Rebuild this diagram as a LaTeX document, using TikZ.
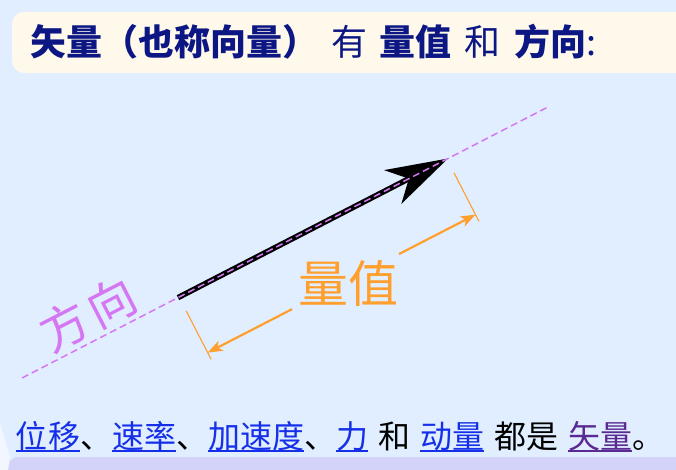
\documentclass[tikz,border=0pt]{standalone}
\usepackage{fontspec}
\setmainfont{Noto Sans CJK SC}
\usetikzlibrary{arrows.meta}
\definecolor{bgblue}{HTML}{E0EEFF}
\definecolor{cream}{HTML}{FFF9EC}
\definecolor{navy}{HTML}{0C1784}
\definecolor{linkblue}{HTML}{1530E8}
\definecolor{visited}{HTML}{5A2A92}
\definecolor{dirpurple}{HTML}{D577F2}
\definecolor{magorange}{HTML}{FF9F2E}
\definecolor{lavender}{HTML}{D3D3FA}
\definecolor{paleleft}{HTML}{F2F7FF}
\newcommand\ulink[2]{{\color{#1}\setbox0\hbox{#2}\rlap{\rule[-4pt]{\wd0}{1.8pt}}\box0}}
\tikzset{
  dirline/.style={draw=dirpurple, line width=1.5pt, dash pattern=on 7pt off 4pt},
  shaft/.style={draw=black, line width=5.5pt},
  tickline/.style={draw=magorange, line width=1.1pt},
  dimarrow/.style={draw=magorange, line width=2.2pt, -{Stealth[length=15pt,width=11pt,inset=4pt]}},
  lbl/.style={inner sep=0pt, outer sep=0pt}
}
\begin{document}
\begin{tikzpicture}[x=1pt,y=-1pt]
\useasboundingbox (0,0) rectangle (676,470);
\fill[bgblue] (0,0) rectangle (676,470);
% bottom decorations
\fill[paleleft] (0,423) -- (10,457) -- (8,470) -- (0,470) -- cycle;
\fill[lavender] (8,470) -- (10,460) to[out=-70,in=180] (16,457) -- (676,457) -- (676,470) -- cycle;
% title box
\fill[cream, rounded corners=12pt] (12,12) rectangle (700,73);
\node[lbl, anchor=base west] (title) at (30,56)
  {\color{navy}\fontsize{36}{42}\selectfont\textbf{矢量（也称向量）}\hspace{13pt}有\hspace{12pt}\textbf{量值}\hspace{13pt}和\hspace{14pt}\textbf{方向}:};
% vector drawing in a frame along the direction line
\begin{scope}[shift={(22,378)}, rotate=27.26]
  \coordinate (d0) at (0,0);
  \coordinate (d1) at (594,0);
  \coordinate (s) at (175.5,0);
  \coordinate (tip) at (479.2,0);
  \coordinate (barbA) at (417,-19);
  \coordinate (barbB) at (417,19);
  \coordinate (notch) at (435.2,0);
  \coordinate (lt0) at (176.7,15.5);
  \coordinate (lt1) at (176.7,70);
  \coordinate (rt0) at (478,15.5);
  \coordinate (rt1) at (478,70);
  \coordinate (la0) at (271.7,62.5);
  \coordinate (la1) at (176.7,62.5);
  \coordinate (ra0) at (392,62.5);
  \coordinate (ra1) at (478,62.5);
  \draw[shaft] (s) -- (notch);
  \fill[black] (tip) -- (barbA) -- (notch) -- (barbB) -- cycle;
  \draw[dirline] (d0) -- (d1);
  \draw[tickline] (lt0) -- (lt1);
  \draw[tickline] (rt0) -- (rt1);
  \draw[dimarrow] (la0) -- (la1);
  \draw[dimarrow] (ra0) -- (ra1);
\end{scope}
\node[lbl, text=magorange, font=\fontsize{50}{58}\selectfont] (mag) at (348,283) {量值};
\node[lbl, text=dirpurple, font=\fontsize{48}{56}\selectfont, rotate=27.26] (dir) at (88,314) {方\hspace{4pt}向};
% bottom sentence
\node[lbl, anchor=base west] (sentence) at (16,448)
  {\fontsize{32}{38}\selectfont\ulink{linkblue}{位移}、\ulink{linkblue}{速率}、\ulink{linkblue}{加速度}、\ulink{linkblue}{力}\hspace{10pt}和\hspace{10pt}\ulink{linkblue}{动量}\hspace{10pt}都是\hspace{10pt}\ulink{visited}{矢量}。};
\end{tikzpicture}
\end{document}
